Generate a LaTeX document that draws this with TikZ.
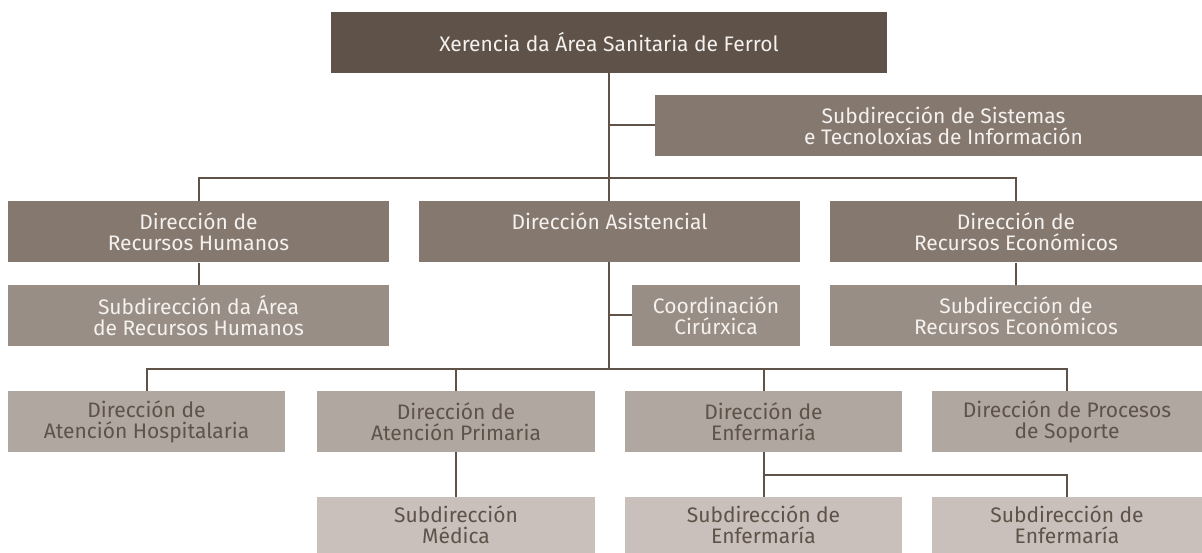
\documentclass[tikz,border=0pt]{standalone}
\usepackage{fontspec}
\setmainfont{Fira Sans}
\usetikzlibrary{positioning}
\definecolor{lvla}{HTML}{5E5249}
\definecolor{lvlb}{HTML}{85786F}
\definecolor{lvlc}{HTML}{998E85}
\definecolor{lvld}{HTML}{B0A7A1}
\definecolor{lvle}{HTML}{C9C0BB}
\definecolor{paletext}{HTML}{F4F1EE}
\pgfdeclarelayer{back}
\pgfsetlayers{back,main}

\begin{document}
\begin{tikzpicture}[
x=1pt,y=-1pt,
font=\fontsize{21}{21}\selectfont,
box/.style={rectangle,inner sep=0pt,align=center,minimum height=61pt},
boxa/.style={box,fill=lvla,text=paletext},
boxb/.style={box,fill=lvlb,text=paletext},
boxc/.style={box,fill=lvlc,text=paletext},
boxd/.style={box,fill=lvld,text=lvla},
boxe/.style={box,fill=lvle,text=lvla,minimum height=56pt},
link/.style={draw=lvla,line width=2pt}
]
\useasboundingbox (0,0) rectangle (1202,553);

% top
\node (xer) at (609,42.5) [boxa,minimum width=556pt] {Xerencia da Área Sanitaria de Ferrol};
\node (sist) at (928.5,125.5) [boxb,minimum width=547pt] {\hspace*{30pt}Subdirección de Sistemas\\\hspace*{30pt}e Tecnoloxías de Información};

% direccions
\node (rrhh) at (198.5,232) [boxb,minimum width=381pt] {Dirección de\\Recursos Humanos};
\node (asis) at (609.5,232) [boxb,minimum width=381pt] {Dirección Asistencial\\\mbox{}};
\node (econ) at (1016,232) [boxb,minimum width=372pt] {Dirección de\\Recursos Económicos};

\node (subrrhh) at (198.5,315.5) [boxc,minimum width=381pt] {Subdirección da Área\\de Recursos Humanos};
\node (coord) at (716,315.5) [boxc,minimum width=168pt] {Coordinación\\Cirúrxica};
\node (subecon) at (1016,315.5) [boxc,minimum width=372pt] {Subdirección de\\Recursos Económicos};

% asistencial
\node (hosp) at (146.5,421.5) [boxd,minimum width=277pt] {Dirección de\\Atención Hospitalaria};
\node (prim) at (456,421.5) [boxd,minimum width=278pt] {Dirección de\\Atención Primaria};
\node (enf) at (763.5,421.5) [boxd,minimum width=277pt] {Dirección de\\Enfermaría};
\node (proc) at (1067,421.5) [boxd,minimum width=270pt] {Dirección de Procesos\\de Soporte};

\node (med) at (456,525) [boxe,minimum width=278pt] {Subdirección\\Médica};
\node (senfa) at (763.5,525) [boxe,minimum width=277pt] {Subdirección de\\Enfermaría};
\node (senfb) at (1067,525) [boxe,minimum width=270pt] {Subdirección de\\Enfermaría};

\coordinate (busa) at (609,178);
\coordinate (busb) at (609,369);
\coordinate (busc) at (763.5,475);

\begin{pgfonlayer}{back}
\draw[link] (xer.south) -- (busb);
\draw[link] (sist.west) -- (sist.west -| busb);
\draw[link] (rrhh.north) |- (busa) -| (econ.north);
\draw[link] (rrhh.south) -- (subrrhh.north);
\draw[link] (econ.south) -- (subecon.north);
\draw[link] (coord.west) -- (coord.west -| busb);
\draw[link] (hosp.north) |- (busb) -| (proc.north);
\draw[link] (prim.north) |- (busb);
\draw[link] (enf.north) |- (busb);
\draw[link] (prim.south) -- (med.north);
\draw[link] (enf.south) -- (busc) -| (senfb.north);
\draw[link] (busc) -- (senfa.north);
\end{pgfonlayer}
\end{tikzpicture}
\end{document}
